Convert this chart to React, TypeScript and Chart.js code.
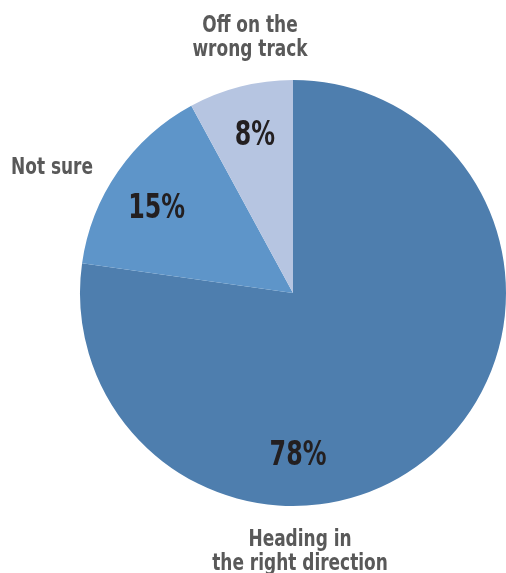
import React, { useEffect, useRef } from "react";
import { Chart, registerables } from "chart.js";

Chart.register(...registerables);

const categories = [["Heading in", "the right direction"], ["Not sure"], ["Off on the", "wrong track"]];
const values = [78, 15, 8];
const valueLabels = ["78%", "15%", "8%"];
const colors = ["#4e7eae", "#5e95c9", "#b6c5e1"];

const FONT = '"DejaVu Sans Condensed", "Liberation Sans Narrow", sans-serif';

function narrowText(ctx: CanvasRenderingContext2D, t: string, x: number, y: number, sx: number) {
  ctx.save();
  ctx.translate(x, y);
  ctx.scale(sx, 1);
  ctx.fillText(t, 0, 0);
  ctx.restore();
}

const labelPlugin = {
  id: "pieLabels",
  afterDraw(chart: any) {
    const ctx = chart.ctx;
    const meta = chart.getDatasetMeta(0);
    ctx.save();
    ctx.textAlign = "center";
    ctx.textBaseline = "middle";
    const place = [
      [88.2, 0.752],
      [212.3, 0.757],
      [256.6, 0.77],
    ];
    const offs = [
      [7, 256],
      [-241, -128],
      [-43, -258],
    ];
    const dy = 3;
    meta.data.forEach((arc: any, i: number) => {
      const { x, y, outerRadius } = arc.getProps(["x", "y", "outerRadius"], true);
      const ang = (place[i][0] * Math.PI) / 180;
      const r = outerRadius * place[i][1];
      ctx.fillStyle = "#231f20";
      ctx.font = `bold 33px ${FONT}`;
      narrowText(ctx, valueLabels[i], x + Math.cos(ang) * r, y + Math.sin(ang) * r + dy, 0.8);

      const lines = categories[i];
      ctx.fillStyle = "#595959";
      ctx.font = `bold 23px ${FONT}`;
      const lh = 24;
      const cy = y + offs[i][1] - ((lines.length - 1) * lh) / 2 + dy;
      lines.forEach((ln, k) => narrowText(ctx, ln, x + offs[i][0], cy + k * lh, 0.82));
    });
    ctx.restore();
  },
};

export default function App() {
  const ref = useRef<HTMLCanvasElement>(null);
  useEffect(() => {
    const chart = new Chart(ref.current!, {
      type: "pie",
      data: {
        labels: categories.map((c) => c.join(" ")),
        datasets: [{ data: values, backgroundColor: colors, borderWidth: 0 }],
      },
      options: {
        animation: false,
        responsive: false,
        layout: { padding: { left: 80, right: 0, top: 80, bottom: 67 } },
        plugins: { legend: { display: false }, tooltip: { enabled: false } },
      },
      plugins: [labelPlugin],
    });
    return () => chart.destroy();
  }, []);
  return (
    <div style={{ position: "fixed", left: 0, top: 0, width: 506, height: 573, background: "#fff" }}>
      <canvas ref={ref} width={506} height={573} style={{ width: 506, height: 573 }} />
    </div>
  );
}
